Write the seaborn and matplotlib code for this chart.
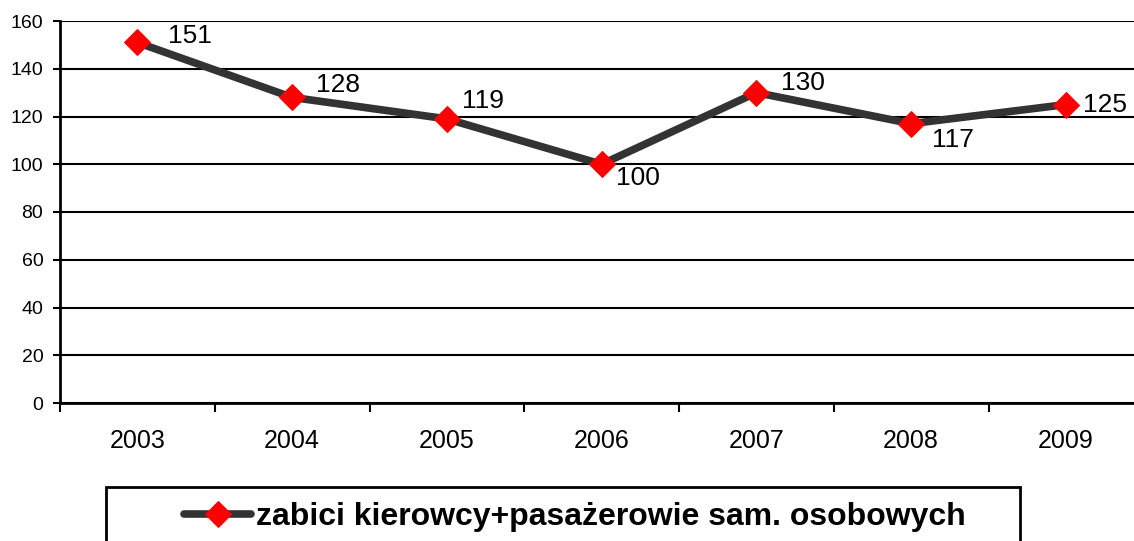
import numpy as np
import pandas as pd
import seaborn as sns
from matplotlib import pyplot as plt
from matplotlib.patches import Rectangle

years = ['2003', '2004', '2005', '2006', '2007', '2008', '2009']
killed = [151, 128, 119, 100, 130, 117, 125]
series_name = 'zabici kierowcy+pasażerowie sam. osobowych'

# label offsets in points (dx, dy) - Excel style "right" placement
label_offsets = [(22, 5), (17, 9), (11, 13), (10, -10), (18, 7), (15, -12), (12, 0)]

sns.set_theme(style='white')
plt.rcParams['font.family'] = ['Liberation Sans', 'DejaVu Sans']
plt.rcParams['text.color'] = 'black'
plt.rcParams['xtick.color'] = 'black'
plt.rcParams['ytick.color'] = 'black'
plt.rcParams['xtick.labelcolor'] = 'black'
plt.rcParams['ytick.labelcolor'] = 'black'

df = pd.DataFrame({'rok': years, 'zabici': killed})

fig = plt.figure(figsize=(11.34, 5.41), dpi=100)
ax = fig.add_axes([60 / 1134, 138 / 541, 1074 / 1134, 382 / 541])

sns.lineplot(data=df, x='rok', y='zabici', ax=ax, color='#333333',
             linewidth=5.5, marker='D', markersize=13, markerfacecolor='red',
             markeredgecolor='red', label=series_name, legend=False)

for i, v in enumerate(killed):
    ax.annotate(str(v), (i, v), xytext=label_offsets[i], textcoords='offset points',
                ha='left', va='center', fontsize=19, color='black')

ax.set_ylim(0, 160)
ax.set_yticks(np.arange(0, 161, 20))
ax.yaxis.grid(True, color='black', linewidth=1.5)
ax.set_axisbelow(True)
ax.set_xlabel('')
ax.set_ylabel('')

ax.set_xticks(range(len(years)))
ax.set_xticklabels(years)
ax.set_xticks(np.arange(-0.5, 7, 1), minor=True)
# set limits after ticks, set_xticks widens the view otherwise
ax.set_xlim(-0.5, 6.44)
ax.tick_params(axis='x', which='major', length=0, labelsize=18, pad=19)
ax.tick_params(axis='x', which='minor', length=6.5, width=1.5, direction='out', color='black', bottom=True)
ax.tick_params(axis='y', length=5, width=1.5, direction='out', color='black', labelsize=14, left=True, pad=7)

for side in ['top', 'right']:
    ax.spines[side].set_visible(False)
for side in ['left', 'bottom']:
    ax.spines[side].set_color('black')
    ax.spines[side].set_linewidth(2)

handles, labels = ax.get_legend_handles_labels()
leg = fig.legend(handles, labels, loc='center', bbox_to_anchor=(575 / 1134, 1 - 517 / 541),
                 frameon=False, handlelength=2.1, handletextpad=0.15,
                 prop={'size': 23, 'weight': 'bold'}, labelcolor='black')
fig.patches.append(Rectangle((106 / 1134, -0.05), 914 / 1134, 1 - 487 / 541 + 0.05,
                             transform=fig.transFigure, fill=False, edgecolor='black',
                             linewidth=2))

fig.savefig('out.png', dpi=100)
